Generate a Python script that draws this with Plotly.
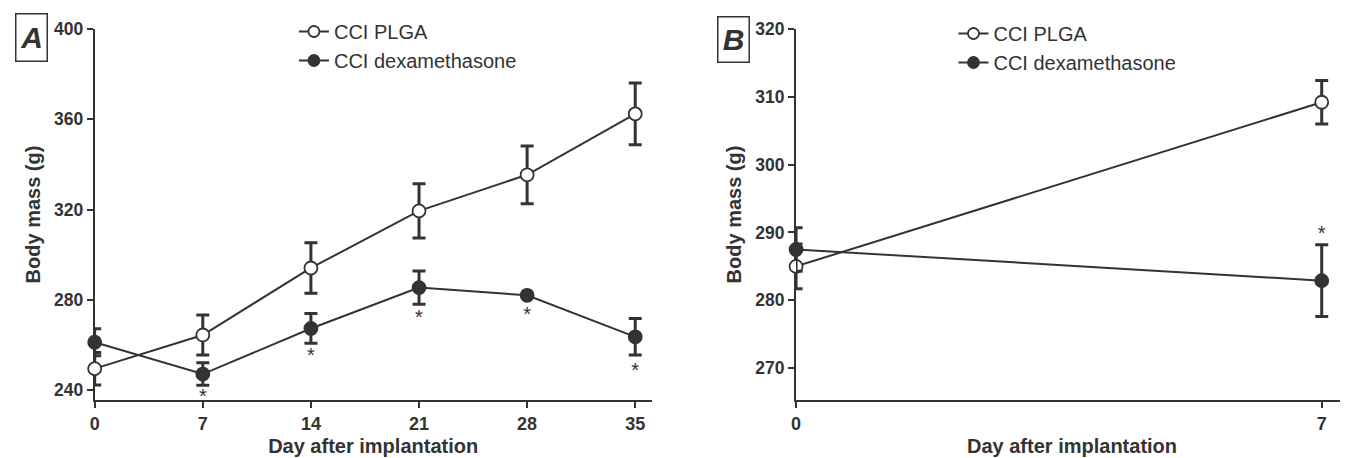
import plotly.graph_objects as go

# ---------------- data ----------------
days_A = [0, 7, 14, 21, 28, 35]
plga_A = [249.5, 264.4, 294.1, 319.4, 335.4, 362.4]
plga_A_err = [7.2, 8.9, 11.2, 12.0, 12.8, 13.7]
dex_A = [261.2, 247.1, 267.3, 285.4, 282.0, 263.6]
dex_A_err = [6.0, 5.0, 6.6, 7.4, 0.0, 8.1]
star_days_A = [7, 14, 21, 28, 35]
star_y_A = [236.4, 254.6, 271.4, 272.8, 247.9]

days_B = [0, 7]
plga_B = [285.0, 309.2]
plga_B_err = [3.3, 3.2]
dex_B = [287.5, 282.9]
dex_B_err = [3.2, 5.3]
star_days_B = [7]
star_y_B = [289.6]

xticks_A = [0, 7, 14, 21, 28, 35]
yticks_A = [240, 280, 320, 360, 400]
xticks_B = [0, 7]
yticks_B = [270, 280, 290, 300, 310, 320]

name_plga = "CCI PLGA"
name_dex = "CCI dexamethasone"
x_title = "Day after implantation"
y_title = "Body mass (g)"

# ---------------- style ----------------
INK = "#333333"
FONT = "Arial, Liberation Sans, sans-serif"
OFF = 8                      # page body margin of the html page
W, H = 1348 - OFF, 458 - OFF

fig = go.Figure()


def add_series(x, y, err, xa, ya, filled):
    fig.add_trace(go.Scatter(
        x=x, y=y, xaxis=xa, yaxis=ya, mode="lines+markers",
        showlegend=False, cliponaxis=False,
        line=dict(color=INK, width=2),
        marker=dict(symbol="circle", size=13,
                    color=INK if filled else "white",
                    line=dict(color=INK, width=1.8)),
        error_y=dict(type="data", array=err, visible=True,
                     color=INK, thickness=3, width=6.5),
    ))


add_series(days_A, plga_A, plga_A_err, "x", "y", False)
add_series(days_A, dex_A, dex_A_err, "x", "y", True)
add_series(days_B, plga_B, plga_B_err, "x2", "y2", False)
add_series(days_B, dex_B, dex_B_err, "x2", "y2", True)

# significance stars
for sx, sy, xa, ya in ((star_days_A, star_y_A, "x", "y"),
                       (star_days_B, star_y_B, "x2", "y2")):
    fig.add_trace(go.Scatter(x=sx, y=sy, xaxis=xa, yaxis=ya,
                             mode="text", text=["*"] * len(sx),
                             textposition="middle center", showlegend=False,
                             cliponaxis=False,
                             textfont=dict(family=FONT, size=20, color=INK)))

# legend-only entries
for leg, xa, ya in (("legend", "x", "y"), ("legend2", "x2", "y2")):
    for nm, filled in ((name_plga, False), (name_dex, True)):
        fig.add_trace(go.Scatter(
            x=[None], y=[None], xaxis=xa, yaxis=ya, mode="lines+markers",
            name=nm, legend=leg, legendgroup=leg + nm,
            line=dict(color=INK, width=2),
            marker=dict(symbol="circle", size=11,
                        color=INK if filled else "white",
                        line=dict(color=INK, width=1.8)),
        ))

top_px, bot_px = 29 - OFF, 400 - OFF      # plot area top / bottom in figure px
plot_h = bot_px - top_px


def px_x(px):
    return (px - OFF) / W


def px_y(py):
    return 1 - ((py - OFF) - top_px) / plot_h


tick_font_x = dict(family=FONT, size=18, color=INK, weight="bold")
tick_font_y = dict(family=FONT, size=17.5, color=INK, weight="bold")
title_font = dict(family=FONT, size=20, color=INK, weight="bold")

axis_common = dict(
    showline=True, linecolor=INK, linewidth=2,
    ticks="outside", ticklen=6, tickwidth=2, tickcolor=INK,
    showgrid=False, zeroline=False, layer="below traces",
)

fig.update_layout(
    width=W, height=H,
    margin=dict(l=0, r=0, t=top_px, b=H - bot_px),
    paper_bgcolor="white", plot_bgcolor="white",
    font=dict(family=FONT, color=INK),
    xaxis=dict(domain=[px_x(90), px_x(649)], range=[0, 36.06],
               tickvals=xticks_A, anchor="y", tickfont=tick_font_x,
               title=dict(text=x_title, standoff=6, font=title_font), **axis_common),
    yaxis=dict(domain=[0, 1], range=[235.6, 400], tickvals=yticks_A, anchor="x",
               tickfont=tick_font_y,
               title=dict(text=y_title, standoff=8, font=title_font), **axis_common),
    xaxis2=dict(domain=[px_x(794), 1.0], range=[0, 7.35],
                tickvals=xticks_B, anchor="y2", tickfont=tick_font_x,
                title=dict(text=x_title, standoff=6, font=title_font), **axis_common),
    yaxis2=dict(domain=[0, 1], range=[265.3, 320], tickvals=yticks_B, anchor="x2",
                tickfont=tick_font_y,
                title=dict(text=y_title, standoff=8, font=title_font), **axis_common),
    legend=dict(x=px_x(290), y=px_y(12), xanchor="left", yanchor="top",
                xref="paper", yref="paper", bgcolor="rgba(0,0,0,0)",
                font=dict(family=FONT, size=20, color=INK),
                traceorder="grouped", tracegroupgap=0, itemwidth=30),
    legend2=dict(x=px_x(952), y=px_y(14), xanchor="left", yanchor="top",
                 xref="paper", yref="paper", bgcolor="rgba(0,0,0,0)",
                 font=dict(family=FONT, size=20, color=INK),
                 traceorder="grouped", tracegroupgap=0, itemwidth=30),
    annotations=[
        dict(text="<b><i>A</i></b>", xref="paper", yref="paper",
             x=px_x(27), y=px_y(38), xanchor="center", yanchor="middle",
             showarrow=False, font=dict(family=FONT, size=30, color=INK),
             bordercolor=INK, borderwidth=1.5, borderpad=0, width=30, height=46),
        dict(text="<b><i>B</i></b>", xref="paper", yref="paper",
             x=px_x(731), y=px_y(40), xanchor="center", yanchor="middle",
             showarrow=False, font=dict(family=FONT, size=30, color=INK),
             bordercolor=INK, borderwidth=1.5, borderpad=0, width=30, height=44),
    ],
)

fig.write_html("out.html")
